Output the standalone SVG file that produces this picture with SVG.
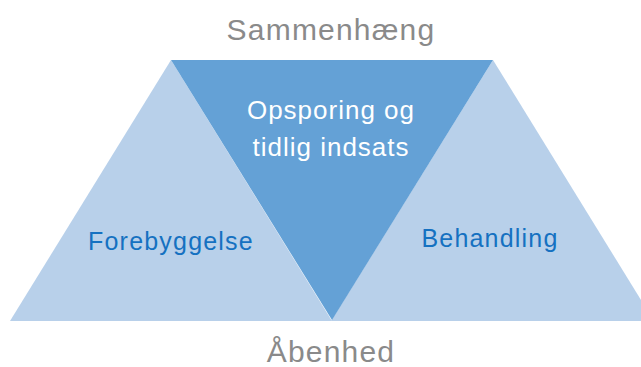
<svg xmlns="http://www.w3.org/2000/svg" width="641" height="367" viewBox="0 0 641 367">
<style>
.light{fill:#b8d0ea}
.dark{fill:#64a1d6}
text{font-family:"Liberation Sans",Arial,sans-serif;text-anchor:middle}
.outer{fill:#8a8a8a;font-size:30px;letter-spacing:1.2px}
.blue{fill:#1571c1;font-size:25px;letter-spacing:1.2px}
.white{fill:#ffffff;font-size:26px;letter-spacing:1px}
</style>
<rect width="641" height="367" fill="#ffffff"/>
<g id="forebyggelse">
<polygon class="light" points="10,321 171,60 332,321"/>
<text class="blue" x="171" y="250">Forebyggelse</text>
</g>
<g id="behandling">
<polygon class="light" points="331,321 493,60 654,321 641,321"/>
<text class="blue" x="490" y="247">Behandling</text>
</g>
<g id="opsporing">
<polygon class="dark" points="171,60 493,60 332,320"/>
<text class="white" x="331" y="119">Opsporing og</text>
<text class="white" x="331" y="156">tidlig indsats</text>
</g>
<g id="labels">
<text class="outer" x="331" y="40">Sammenhæng</text>
<text class="outer" x="331" y="362">Åbenhed</text>
</g>
<g id="connectors"></g>
</svg>
